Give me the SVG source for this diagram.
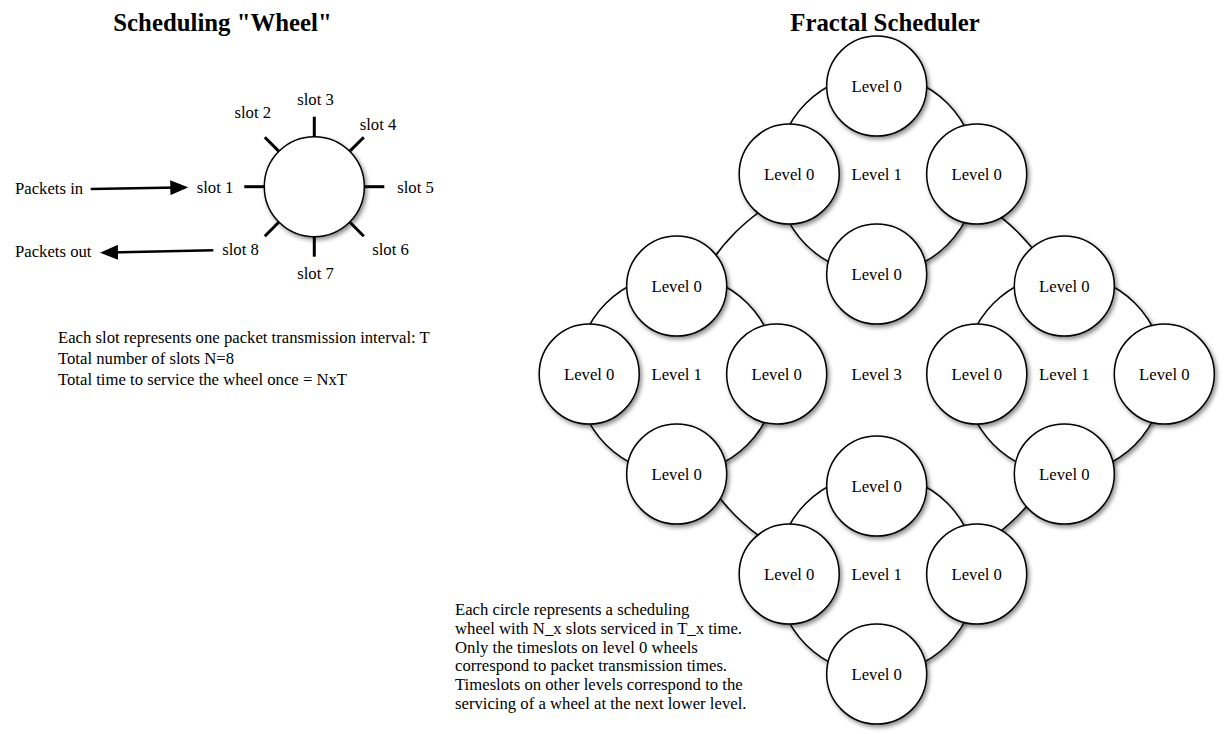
<svg xmlns="http://www.w3.org/2000/svg" width="1224" height="734" viewBox="0 0 1224 734">
<style>
text{font-family:"Liberation Serif","Times New Roman",serif;font-size:16.7px;fill:#000}
.title{font-size:24.8px;font-weight:bold;text-anchor:middle}
.mid{text-anchor:middle}
.c{fill:#fff;stroke:#000;stroke-width:1.5;filter:url(#sh)}
.tick{stroke:#000;stroke-width:3}
.arr{stroke:#000;stroke-width:2.5;fill:none;marker-end:url(#ah)}
</style>
<defs>
<filter id="sh" x="-20%" y="-20%" width="150%" height="150%">
<feDropShadow dx="2" dy="2.5" stdDeviation="2" flood-color="#000" flood-opacity="0.45"/>
</filter>
<marker id="ah" markerUnits="userSpaceOnUse" markerWidth="18" markerHeight="15" refX="8" refY="7.5" orient="auto">
<path d="M0,0 L18,7.5 L0,15 z" fill="#000"/>
</marker>
</defs>
<rect width="1224" height="734" fill="#fff"/>

<text class="title" x="222.5" y="31">Scheduling "Wheel"</text>
<text class="title" x="885" y="31">Fractal Scheduler</text>

<!-- Scheduling wheel -->
<g id="wheel">
<circle class="c" cx="314.3" cy="186.7" r="50"/>
<g transform="translate(314.3,186.7)">
<line class="tick" x1="-50" y1="0" x2="-70" y2="0"/>
<line class="tick" x1="-50" y1="0" x2="-70" y2="0" transform="rotate(45)"/>
<line class="tick" x1="-50" y1="0" x2="-70" y2="0" transform="rotate(90)"/>
<line class="tick" x1="-50" y1="0" x2="-70" y2="0" transform="rotate(135)"/>
<line class="tick" x1="-50" y1="0" x2="-70" y2="0" transform="rotate(180)"/>
<line class="tick" x1="-50" y1="0" x2="-70" y2="0" transform="rotate(225)"/>
<line class="tick" x1="-50" y1="0" x2="-70" y2="0" transform="rotate(270)"/>
<line class="tick" x1="-50" y1="0" x2="-70" y2="0" transform="rotate(315)"/>
</g>
<text class="mid" x="215" y="193">slot 1</text>
<text class="mid" x="252.8" y="117.7">slot 2</text>
<text class="mid" x="315.5" y="105">slot 3</text>
<text class="mid" x="378" y="130">slot 4</text>
<text class="mid" x="415.5" y="193">slot 5</text>
<text class="mid" x="390.5" y="255">slot 6</text>
<text class="mid" x="315.5" y="279.3">slot 7</text>
<text class="mid" x="240.5" y="255">slot 8</text>
</g>
<g id="packets-in"><text x="15" y="193.5">Packets in</text></g>
<g id="packets-out"><text x="15" y="256.5">Packets out</text></g>

<g id="connectors">
<line class="arr" x1="90.7" y1="189" x2="178.3" y2="187.5"/>
<line class="arr" x1="213.3" y1="250.3" x2="110" y2="252.5"/>
</g>

<g id="wheel-notes">
<text x="58" y="343.3">Each slot represents one packet transmission interval: T</text>
<text x="58" y="364">Total number of slots N=8</text>
<text x="58" y="384.7">Total time to service the wheel once = NxT</text>
</g>

<!-- Fractal scheduler -->
<g id="level3">
<circle class="c" cx="876.7" cy="374" r="200"/>
<text class="mid" x="876.7" y="379.5">Level 3</text>
</g>

<g id="level1-top">
<circle class="c" cx="876.7" cy="174" r="100"/>
<text class="mid" x="876.7" y="179.5">Level 1</text>
</g>
<g id="level1-left">
<circle class="c" cx="676.7" cy="374" r="100"/>
<text class="mid" x="676.7" y="379.5">Level 1</text>
</g>
<g id="level1-right">
<circle class="c" cx="1064.3" cy="374" r="100"/>
<text class="mid" x="1064.3" y="379.5">Level 1</text>
</g>
<g id="level1-bottom">
<circle class="c" cx="876.7" cy="574" r="100"/>
<text class="mid" x="876.7" y="579.5">Level 1</text>
</g>

<g id="t0-top"><circle class="c" cx="876.7" cy="86" r="50"/><text class="mid" x="876.7" y="91.5">Level 0</text></g>
<g id="t0-left"><circle class="c" cx="789.2" cy="174" r="50"/><text class="mid" x="789.2" y="179.5">Level 0</text></g>
<g id="t0-right"><circle class="c" cx="976.7" cy="174" r="50"/><text class="mid" x="976.7" y="179.5">Level 0</text></g>
<g id="t0-bottom"><circle class="c" cx="876.7" cy="274" r="50"/><text class="mid" x="876.7" y="279.5">Level 0</text></g>

<g id="l0-top"><circle class="c" cx="676.7" cy="286" r="50"/><text class="mid" x="676.7" y="291.5">Level 0</text></g>
<g id="l0-left"><circle class="c" cx="589.2" cy="374" r="50"/><text class="mid" x="589.2" y="379.5">Level 0</text></g>
<g id="l0-right"><circle class="c" cx="776.7" cy="374" r="50"/><text class="mid" x="776.7" y="379.5">Level 0</text></g>
<g id="l0-bottom"><circle class="c" cx="676.7" cy="474" r="50"/><text class="mid" x="676.7" y="479.5">Level 0</text></g>

<g id="r0-top"><circle class="c" cx="1064.3" cy="286" r="50"/><text class="mid" x="1064.3" y="291.5">Level 0</text></g>
<g id="r0-left"><circle class="c" cx="976.8" cy="374" r="50"/><text class="mid" x="976.8" y="379.5">Level 0</text></g>
<g id="r0-right"><circle class="c" cx="1164.3" cy="374" r="50"/><text class="mid" x="1164.3" y="379.5">Level 0</text></g>
<g id="r0-bottom"><circle class="c" cx="1064.3" cy="474" r="50"/><text class="mid" x="1064.3" y="479.5">Level 0</text></g>

<g id="b0-top"><circle class="c" cx="876.7" cy="486" r="50"/><text class="mid" x="876.7" y="491.5">Level 0</text></g>
<g id="b0-left"><circle class="c" cx="789.2" cy="574" r="50"/><text class="mid" x="789.2" y="579.5">Level 0</text></g>
<g id="b0-right"><circle class="c" cx="976.7" cy="574" r="50"/><text class="mid" x="976.7" y="579.5">Level 0</text></g>
<g id="b0-bottom"><circle class="c" cx="876.7" cy="674" r="50"/><text class="mid" x="876.7" y="679.5">Level 0</text></g>

<g id="fractal-notes">
<text x="455" y="615">Each circle represents a scheduling</text>
<text x="455" y="633.8">wheel with N_x slots serviced in T_x time.</text>
<text x="455" y="652.6">Only the timeslots on level 0 wheels</text>
<text x="455" y="671.4">correspond to packet transmission times.</text>
<text x="455" y="690.2">Timeslots on other levels correspond to the</text>
<text x="455" y="709">servicing of a wheel at the next lower level.</text>
</g>
</svg>
